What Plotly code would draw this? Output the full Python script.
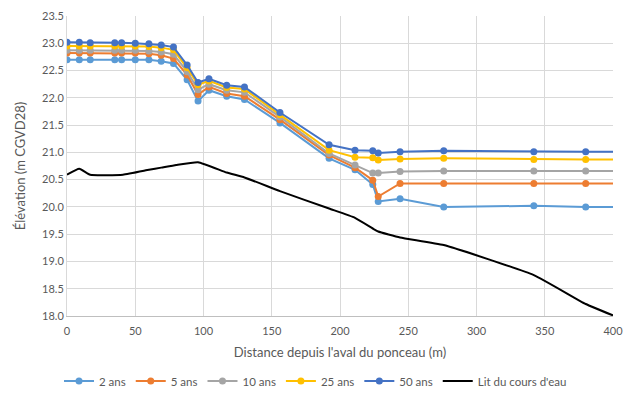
import plotly.graph_objects as go

# Distances (m) - last point beyond axis max (clipped, line continues to edge)
x_water = [0, 9, 17, 35, 40, 50, 60, 69, 78, 88, 96, 104, 117, 130, 156, 192, 211, 224, 228, 244, 276, 342, 380, 420]

ans_2 = [22.70, 22.70, 22.70, 22.70, 22.70, 22.70, 22.70, 22.67, 22.63, 22.33, 21.94, 22.14, 22.03, 21.97, 21.54, 20.89, 20.68, 20.41, 20.10, 20.15, 20.00, 20.02, 20.00, 20.00]
ans_5 = [22.82, 22.82, 22.82, 22.82, 22.82, 22.82, 22.81, 22.78, 22.72, 22.42, 22.06, 22.20, 22.08, 22.03, 21.60, 20.95, 20.72, 20.49, 20.19, 20.43, 20.43, 20.43, 20.43, 20.43]
ans_10 = [22.87, 22.87, 22.87, 22.87, 22.87, 22.87, 22.86, 22.84, 22.80, 22.48, 22.15, 22.25, 22.14, 22.10, 21.65, 20.98, 20.77, 20.62, 20.62, 20.65, 20.66, 20.66, 20.66, 20.66]
ans_25 = [22.95, 22.95, 22.95, 22.95, 22.95, 22.95, 22.94, 22.92, 22.88, 22.55, 22.24, 22.31, 22.19, 22.16, 21.69, 21.04, 20.91, 20.90, 20.86, 20.88, 20.89, 20.87, 20.87, 20.87]
ans_50 = [23.02, 23.02, 23.01, 23.01, 23.01, 23.00, 22.99, 22.97, 22.93, 22.60, 22.28, 22.35, 22.23, 22.20, 21.73, 21.14, 21.04, 21.03, 20.99, 21.01, 21.03, 21.01, 21.01, 21.01]

x_lit = [0, 9, 17, 41, 60, 69, 80, 96, 117, 130, 156, 192, 211, 225, 228, 244, 276, 342, 380, 400]
lit = [20.59, 20.70, 20.59, 20.59, 20.68, 20.72, 20.77, 20.82, 20.63, 20.54, 20.29, 19.97, 19.80, 19.59, 19.55, 19.44, 19.30, 18.75, 18.22, 18.01]

series_names = ["2 ans", "5 ans", "10 ans", "25 ans", "50 ans"]
series_vals = [ans_2, ans_5, ans_10, ans_25, ans_50]
colors = ["#5B9BD5", "#ED7D31", "#A5A5A5", "#FFC000", "#4472C4"]

fig = go.Figure()
for name, vals, c in zip(series_names, series_vals, colors):
    fig.add_trace(go.Scatter(x=x_water, y=vals, name=name, mode="lines+markers",
                             line=dict(color=c, width=2),
                             marker=dict(color=c, size=7)))
fig.add_trace(go.Scatter(x=x_lit, y=lit, name="Lit du cours d'eau", mode="lines",
                         line=dict(color="#000000", width=2, shape="spline", smoothing=0.4)))

font_c = "#595959"
fig.update_layout(
    width=631, height=393,
    margin=dict(l=67, r=18, t=16, b=77, autoexpand=False),
    paper_bgcolor="white", plot_bgcolor="white",
    font=dict(family="Lato, Open Sans, sans-serif", size=11, color=font_c),
    showlegend=True,
    legend=dict(orientation="h", xref="container", yref="paper",
                x=0.5, xanchor="center", y=-0.217, yanchor="middle",
                font=dict(size=11.5, color=font_c), itemwidth=30,
                tracegroupgap=0),
)
fig.update_xaxes(range=[0, 400], dtick=50, tick0=0, showgrid=True, gridcolor="#D9D9D9",
                 gridwidth=1, showline=True, linecolor="#BFBFBF", zeroline=False,
                 ticks="", automargin=False, tickfont=dict(size=11, color=font_c),
                 ticklabelstandoff=5,
                 title=dict(text="Distance depuis l'aval du ponceau (m)",
                            font=dict(size=13, color=font_c), standoff=11))
fig.update_yaxes(range=[18.0, 23.5], dtick=0.5, tick0=18, tickformat=".1f",
                 showgrid=True, gridcolor="#D9D9D9", gridwidth=1,
                 showline=True, linecolor="#D9D9D9", zeroline=False, ticks="",
                 automargin=False, tickfont=dict(size=11, color=font_c),
                 title=dict(text="Élévation (m CGVD28)", font=dict(size=13, color=font_c),
                            standoff=13))

fig.write_html("out.html", config={"displayModeBar": False},
               post_script="document.body.style.margin='0';document.body.style.overflow='hidden';")
